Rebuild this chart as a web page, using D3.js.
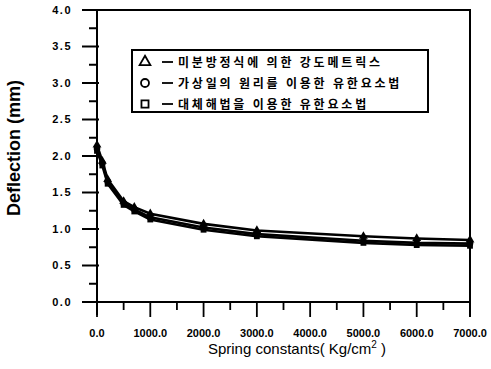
<!DOCTYPE html>
<html>
<head>
<meta charset="utf-8">
<script src="https://cdn.jsdelivr.net/npm/d3@7"></script>
<style>
  html, body { margin: 0; padding: 0; background: #fff; }
  svg { display: block; }
  .num { font-family: "Liberation Sans", Arial, sans-serif; font-weight: bold; font-size: 11px; fill: #000; }
  .ynum { letter-spacing: 1.5px; }
</style>
</head>
<body>
<svg id="chart" width="491" height="369"></svg>
<script>
// Spring constant (Kg/cm^2) sampled for each method
const springConstants = [0, 100, 200, 500, 700, 1000, 2000, 3000, 5000, 6000, 7000];

// Deflection (mm) for each solution method
const seriesNames = [
  "미분방정식에 의한 강도메트릭스",
  "가상일의 원리를 이용한 유한요소법",
  "대체해법을 이용한 유한요소법"
];
const deflectionStiffness = [2.15, 1.93, 1.68, 1.38, 1.30, 1.21, 1.07, 0.98, 0.90, 0.87, 0.85];
const deflectionVirtualWork = [2.10, 1.90, 1.65, 1.35, 1.27, 1.16, 1.02, 0.93, 0.84, 0.81, 0.80];
const deflectionAlternative = [2.07, 1.87, 1.62, 1.33, 1.24, 1.13, 0.99, 0.90, 0.81, 0.78, 0.77];

const xTickValues = [0, 1000, 2000, 3000, 4000, 5000, 6000, 7000];
const xTickLabels = ["0.0", "1000.0", "2000.0", "3000.0", "4000.0", "5000.0", "6000.0", "7000.0"];
const yTickValues = [0, 0.5, 1, 1.5, 2, 2.5, 3, 3.5, 4];
const yTickLabels = ["0.0", "0.5", "1.0", "1.5", "2.0", "2.5", "3.0", "3.5", "4.0"];

const series = [
  { name: seriesNames[0], values: deflectionStiffness, symbol: d3.symbolTriangle },
  { name: seriesNames[1], values: deflectionVirtualWork, symbol: d3.symbolCircle },
  { name: seriesNames[2], values: deflectionAlternative, symbol: d3.symbolSquare }
];

const svg = d3.select("#chart");
const plotLeft = 97, plotRight = 470, plotTop = 10, plotBottom = 302;

const x = d3.scaleLinear().domain([0, 7000]).range([plotLeft, plotRight]);
const y = d3.scaleLinear().domain([0, 4]).range([plotBottom, plotTop]);

// frame: top and right borders
svg.append("path")
  .attr("d", `M${plotLeft - 15},${plotTop}H${plotRight}V${plotBottom + 15}`)
  .attr("fill", "none").attr("stroke", "#000").attr("stroke-width", 2);

// y axis: major ticks every 0.5, minor ticks every 0.25
const yMajor = svg.append("g");
yMajor.append("path")
  .attr("d", `M${plotLeft},${plotTop}V${plotBottom + 13}`)
  .attr("fill", "none").attr("stroke", "#000").attr("stroke-width", 2);
yMajor.selectAll("path.tick").data(yTickValues).join("path")
  .attr("class", "tick")
  .attr("d", d => `M${plotLeft - 15},${y(d)}H${plotLeft + 2}`)
  .attr("fill", "none").attr("stroke", "#000").attr("stroke-width", 2);
yMajor.selectAll("text").data(yTickValues).join("text")
  .attr("class", "num ynum")
  .attr("x", plotLeft - 25).attr("y", d => y(d)).attr("dy", "0.36em")
  .attr("text-anchor", "end")
  .text((d, i) => yTickLabels[i]);

const yMinor = d3.range(0.25, 4, 0.5);
svg.append("g").selectAll("path").data(yMinor).join("path")
  .attr("d", d => `M${plotLeft - 8},${y(d)}H${plotLeft + 1}`)
  .attr("fill", "none").attr("stroke", "#000").attr("stroke-width", 2);

// x axis: major ticks every 1000, minor ticks every 500
const xg = svg.append("g");
xg.append("path")
  .attr("d", `M${plotLeft - 15},${plotBottom}H${plotRight}`)
  .attr("fill", "none").attr("stroke", "#000").attr("stroke-width", 2);
xg.selectAll("path.tick").data(xTickValues).join("path")
  .attr("class", "tick")
  .attr("d", d => `M${x(d)},${plotBottom - 1}V${plotBottom + 15}`)
  .attr("fill", "none").attr("stroke", "#000").attr("stroke-width", 1.8);
xg.selectAll("text").data(xTickValues).join("text")
  .attr("class", "num")
  .attr("x", d => x(d)).attr("y", plotBottom + 35)
  .attr("text-anchor", "middle")
  .text((d, i) => xTickLabels[i]);

const xMinor = d3.range(500, 7000, 1000);
svg.append("g").selectAll("path").data(xMinor).join("path")
  .attr("d", d => `M${x(d)},${plotBottom - 1}V${plotBottom + 8}`)
  .attr("fill", "none").attr("stroke", "#000").attr("stroke-width", 1.8);

// axis titles
svg.append("text")
  .attr("transform", `translate(20,148) rotate(-90)`)
  .attr("text-anchor", "middle")
  .attr("font-family", "Liberation Sans, Arial, sans-serif")
  .attr("font-weight", "bold")
  .attr("font-size", 18)
  .text("Deflection (mm)");

const xt = svg.append("text")
  .attr("x", 297).attr("y", 354)
  .attr("text-anchor", "middle")
  .attr("font-family", "Liberation Sans, Arial, sans-serif")
  .attr("font-size", 15);
xt.append("tspan").text("Spring constants( Kg/cm");
xt.append("tspan").attr("dy", -6).attr("font-size", 10).text("2");
xt.append("tspan").attr("dy", 6).text(" )");

// curves
const line = d3.line().x((d, i) => x(springConstants[i])).y(d => y(d));
const g = svg.append("g");
series.forEach(s => {
  g.append("path").datum(s.values)
    .attr("d", line)
    .attr("fill", "none").attr("stroke", "#000").attr("stroke-width", 2.6);
});
series.forEach(s => {
  g.append("g").selectAll("path").data(s.values).join("path")
    .attr("transform", (d, i) => `translate(${x(springConstants[i])},${y(d)})`)
    .attr("d", d3.symbol().type(s.symbol).size(34))
    .attr("fill", "#000");
});

// legend
const lg = svg.append("g");
lg.append("rect").attr("x", 132).attr("y", 50).attr("width", 296).attr("height", 62)
  .attr("fill", "#fff").attr("stroke", "#000").attr("stroke-width", 2);
series.forEach((s, i) => {
  const cy = 62 + i * 21;
  lg.append("path")
    .attr("transform", `translate(145,${cy})`)
    .attr("d", d3.symbol().type(s.symbol).size(50))
    .attr("fill", "none").attr("stroke", "#000").attr("stroke-width", 1.8);
  lg.append("line").attr("x1", 162).attr("x2", 173).attr("y1", cy).attr("y2", cy)
    .attr("stroke", "#000").attr("stroke-width", 1.8);
  lg.append("text").attr("x", 178).attr("y", cy + 4.5)
    .attr("font-family", "Noto Sans CJK KR, sans-serif")
    .attr("font-weight", "bold")
    .attr("font-size", 12)
    .attr("letter-spacing", 2.8)
    .text(s.name);
});
</script>
</body>
</html>
